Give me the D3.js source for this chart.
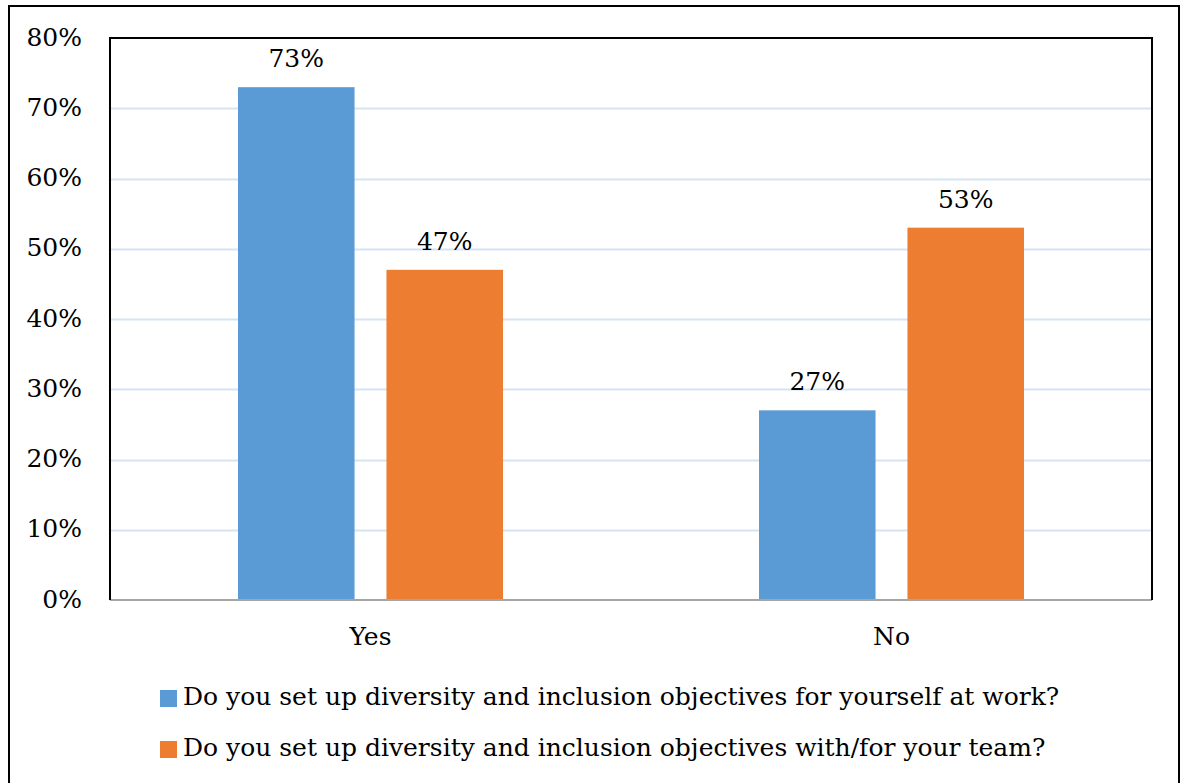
<!DOCTYPE html>
<html>
<head>
<meta charset="utf-8">
<script src="https://cdn.jsdelivr.net/npm/d3@7"></script>
<style>
  html, body { margin: 0; padding: 0; background: #fff; }
  svg { display: block; }
</style>
</head>
<body>
<svg id="chart" width="1186" height="783"></svg>
<script>
const categories = ["Yes", "No"];
const seriesNames = [
  "Do you set up diversity and inclusion objectives for yourself at work?",
  "Do you set up diversity and inclusion objectives with/for your team?"
];
const seriesSelf = [73, 27];
const seriesTeam = [47, 53];
const seriesColors = ["#5b9bd5", "#ed7d31"];
const yTicks = [0, 10, 20, 30, 40, 50, 60, 70, 80];

const seriesValues = [seriesSelf, seriesTeam];
const rows = categories.map((c, i) => ({
  category: c,
  values: seriesNames.map((s, j) => ({ key: j, value: seriesValues[j][i] }))
}));

const svg = d3.select("#chart");
const plot = { left: 110, right: 1152, top: 38, bottom: 600 };
const FS = 25;
const FONT = "'DejaVu Serif', serif";

svg.append("rect")
  .attr("x", 9).attr("y", 6)
  .attr("width", 1170).attr("height", 800)
  .attr("fill", "none").attr("stroke", "#000").attr("stroke-width", 2);

const y = d3.scaleLinear().domain([0, 80]).range([plot.bottom, plot.top]);
const x0 = d3.scaleBand().domain(categories).range([plot.left, plot.right]).padding(0);
const x1 = d3.scaleBand().domain(d3.range(seriesNames.length))
  .range([128, 393]).paddingInner(0.215).paddingOuter(0);

svg.append("g")
  .selectAll("line")
  .data(yTicks.filter(t => t > 0 && t < 80))
  .join("line")
  .attr("x1", plot.left).attr("x2", plot.right)
  .attr("y1", d => Math.round(y(d)) + 0.5).attr("y2", d => Math.round(y(d)) + 0.5)
  .attr("stroke", "#d6e4f2").attr("stroke-width", 2);

const yAxis = d3.axisLeft(y).tickValues(yTicks).tickFormat(d => d + "%").tickSize(0).tickPadding(0);
const yg = svg.append("g").attr("transform", "translate(82,0)").call(yAxis);
yg.attr("font-family", null);
yg.select(".domain").remove();
yg.selectAll("text")
  .style("font-family", FONT)
  .attr("font-size", FS)
  .attr("fill", "#000")
  .attr("dy", 7);

const groups = svg.append("g").selectAll("g")
  .data(rows).join("g")
  .attr("transform", d => `translate(${x0(d.category)},0)`);

groups.selectAll("rect")
  .data(d => d.values).join("rect")
  .attr("x", d => x1(d.key))
  .attr("y", d => y(d.value))
  .attr("width", x1.bandwidth())
  .attr("height", d => y(0) - y(d.value))
  .attr("fill", d => seriesColors[d.key]);

groups.selectAll("text.val")
  .data(d => d.values).join("text")
  .attr("class", "val")
  .attr("x", d => x1(d.key) + x1.bandwidth() / 2)
  .attr("y", d => y(d.value) - 20)
  .attr("text-anchor", "middle")
  .style("font-family", FONT)
  .attr("font-size", FS)
  .attr("fill", "#000")
  .text(d => d.value + "%");

svg.append("line")
  .attr("x1", plot.left).attr("x2", plot.right)
  .attr("y1", plot.bottom).attr("y2", plot.bottom)
  .attr("stroke", "#a6a6a6").attr("stroke-width", 2);

svg.append("path")
  .attr("d", `M${plot.left},${plot.bottom} V${plot.top} H${plot.right} V${plot.bottom}`)
  .attr("fill", "none").attr("stroke", "#000").attr("stroke-width", 2);

const xAxis = d3.axisBottom(x0).tickSize(0).tickPadding(0);
const xg = svg.append("g").attr("transform", `translate(0,${plot.bottom})`).call(xAxis);
xg.attr("font-family", null);
xg.select(".domain").remove();
xg.selectAll("text")
  .style("font-family", FONT)
  .attr("font-size", FS)
  .attr("fill", "#000")
  .attr("y", 45).attr("dy", 0);

const legend = svg.append("g").attr("transform", "translate(160,690)");
const li = legend.selectAll("g").data(seriesNames).join("g")
  .attr("transform", (d, i) => `translate(0,${i * 51})`);
li.append("rect").attr("width", 17).attr("height", 17)
  .attr("fill", (d, i) => seriesColors[i]);
li.append("text").attr("x", 23).attr("y", 15)
  .style("font-family", FONT)
  .attr("font-size", FS)
  .attr("fill", "#000")
  .text(d => d);
</script>
</body>
</html>
